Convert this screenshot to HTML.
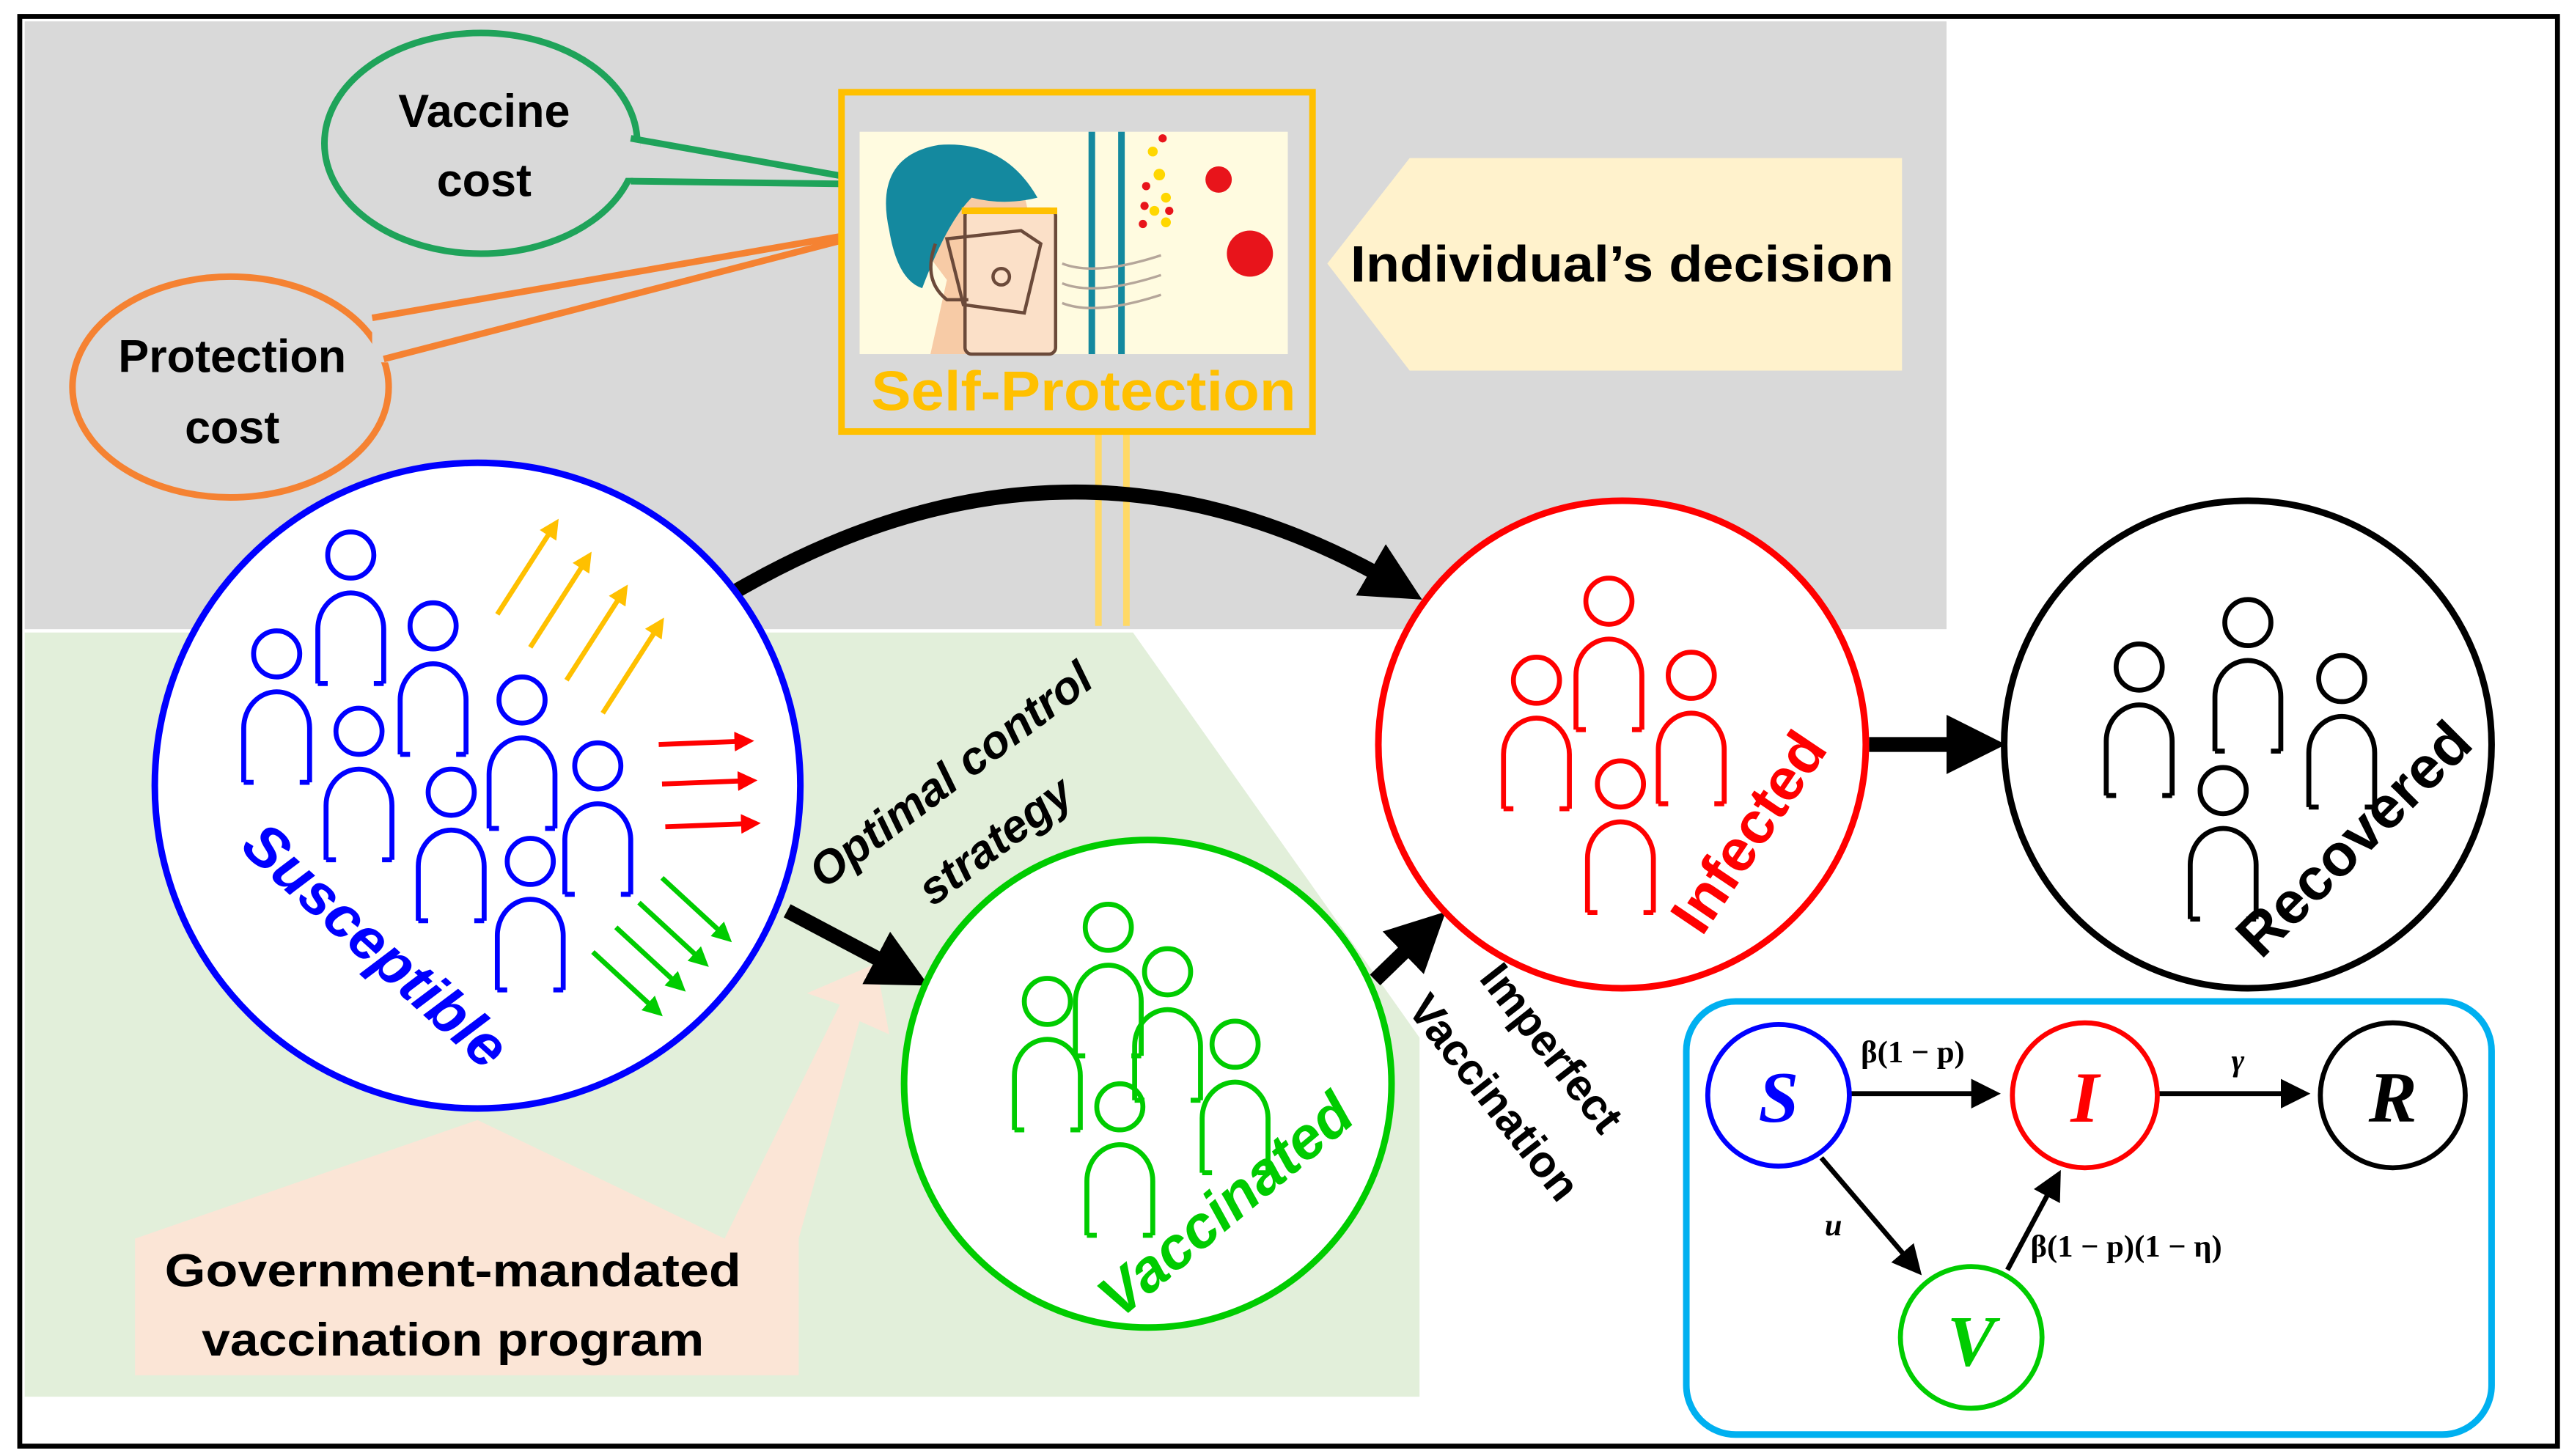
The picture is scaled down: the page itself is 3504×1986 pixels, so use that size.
<!DOCTYPE html>
<html><head><meta charset="utf-8"><style>
html,body{margin:0;padding:0;background:#fff;}
svg{display:block;}
text{font-family:"Liberation Sans",sans-serif;font-weight:bold;}
</style></head><body>
<svg width="3504" height="1986" viewBox="0 0 1560 884" preserveAspectRatio="none" xmlns="http://www.w3.org/2000/svg">
<defs>
<g id="p" fill="none" stroke-width="3">
<circle cx="0" cy="0" r="14"/>
<path d="M-20,78 L-20,45 A20,22 0 0 1 20,45 L20,78 M-20,78 h6 M20,78 h-6"/>
</g>
<marker id="ah" markerWidth="4" markerHeight="4" refX="2" refY="2" orient="auto" markerUnits="strokeWidth"><path d="M0,0 L4,2 L0,4z" fill="#000"/></marker>
<marker id="ao" markerWidth="4" markerHeight="4" refX="2" refY="2" orient="auto" markerUnits="strokeWidth"><path d="M0,0 L4,2 L0,4z" fill="#ffc000"/></marker>
<marker id="ar" markerWidth="4" markerHeight="4" refX="2" refY="2" orient="auto" markerUnits="strokeWidth"><path d="M0,0 L4,2 L0,4z" fill="#f00"/></marker>
<marker id="ag" markerWidth="4" markerHeight="4" refX="2" refY="2" orient="auto" markerUnits="strokeWidth"><path d="M0,0 L4,2 L0,4z" fill="#00cc00"/></marker>
<marker id="as" markerWidth="6" markerHeight="6" refX="5" refY="3" orient="auto" markerUnits="strokeWidth"><path d="M0,0 L6,3 L0,6z" fill="#000"/></marker>
</defs>
<rect x="0" y="0" width="1560" height="884" fill="#fff"/>
<rect x="15" y="13" width="1167" height="369" fill="#d9d9d9"/>
<polygon points="15,384 688,384 862,630 862,848 15,848" fill="#e2efda"/>
<rect x="12" y="10" width="1541" height="868" fill="none" stroke="#000" stroke-width="3"/>
<line x1="667" y1="263" x2="667" y2="380" stroke="#ffd966" stroke-width="4"/>
<line x1="684" y1="263" x2="684" y2="380" stroke="#ffd966" stroke-width="4"/>
<ellipse cx="292" cy="87" rx="95" ry="67" fill="none" stroke="#1fa35a" stroke-width="4"/>
<rect x="379" y="86" width="10" height="22" fill="#d9d9d9"/>
<polyline points="383,84 540,112 383,110" fill="none" stroke="#1fa35a" stroke-width="4"/>
<ellipse cx="140" cy="235" rx="96" ry="67" fill="none" stroke="#f58232" stroke-width="4"/>
<rect x="226" y="190" width="12" height="30" fill="#d9d9d9"/>
<polyline points="226,193 542,138 233,218" fill="none" stroke="#f58232" stroke-width="4"/>
<text x="294" y="77" font-size="28" text-anchor="middle" fill="#000">Vaccine</text>
<text x="294" y="119" font-size="28" text-anchor="middle" fill="#000">cost</text>
<text x="141" y="226" font-size="28" text-anchor="middle" fill="#000">Protection</text>
<text x="141" y="269" font-size="28" text-anchor="middle" fill="#000">cost</text>
<rect x="511" y="56" width="286" height="206" fill="#d9d9d9" stroke="#ffc000" stroke-width="4"/>
<rect x="522" y="80" width="260" height="135" fill="#fffbe0"/>
<path d="M565,215 L575,170 L560,150 Q530,120 545,105 Q560,85 590,90 Q625,100 625,140 L640,215z" fill="#f7cba6"/>
<path d="M540,140 Q530,95 570,88 Q610,85 630,120 Q610,125 590,120 Q575,135 560,175 Q545,170 540,140z" fill="#14899f"/>
<rect x="586" y="127" width="55" height="88" fill="#fbe0c8" stroke="#6b4a3a" stroke-width="2" rx="4"/>
<rect x="584" y="126" width="58" height="4" fill="#ffc000"/>
<path d="M575,145 L620,140 L632,148 L622,190 L585,185z M568,148 Q560,170 575,182 L588,182" fill="none" stroke="#6b4a3a" stroke-width="2"/>
<circle cx="608" cy="168" r="5" fill="none" stroke="#6b4a3a" stroke-width="2"/>
<rect x="661" y="80" width="4" height="135" fill="#14899f"/>
<rect x="679" y="80" width="4" height="135" fill="#14899f"/>
<path d="M645,160 q20,8 60,-5 M645,172 q20,8 60,-5 M645,184 q20,8 60,-5" stroke="#b5a69a" fill="none" stroke-width="1.5"/>
<g fill="#ffd700"><circle cx="700" cy="92" r="3"/><circle cx="704" cy="106" r="3.5"/><circle cx="708" cy="120" r="3"/><circle cx="701" cy="128" r="3"/><circle cx="708" cy="135" r="3"/></g>
<g fill="#e8141b"><circle cx="706" cy="84" r="2.5"/><circle cx="696" cy="113" r="2.5"/><circle cx="695" cy="125" r="2.5"/><circle cx="710" cy="128" r="2.5"/><circle cx="694" cy="136" r="2.5"/><circle cx="740" cy="109" r="8"/><circle cx="759" cy="154" r="14"/></g>
<text x="658" y="249" font-size="34" text-anchor="middle" fill="#ffc000" textLength="258" lengthAdjust="spacingAndGlyphs">Self-Protection</text>
<polygon points="806,160 856,96 1155,96 1155,225 856,225" fill="#fff2cc"/>
<text x="985" y="171" font-size="31" text-anchor="middle" fill="#000" textLength="330" lengthAdjust="spacingAndGlyphs">Individual’s  decision</text>
<polygon points="82,835 82,752 290,680 440,752 510,610 490,603 532,585 540,628 522,620 485,752 485,835" fill="#fbe5d6"/>
<text x="275" y="781" font-size="28" text-anchor="middle" fill="#000" textLength="350" lengthAdjust="spacingAndGlyphs">Government-mandated</text>
<text x="275" y="823" font-size="28" text-anchor="middle" fill="#000" textLength="305" lengthAdjust="spacingAndGlyphs">vaccination program</text>
<path d="M445,360 Q650,240 848,355" fill="none" stroke="#000" stroke-width="9" marker-end="url(#ah)"/>
<line x1="478" y1="553" x2="548" y2="590" stroke="#000" stroke-width="9" marker-end="url(#ah)"/>
<line x1="835" y1="595" x2="865" y2="566" stroke="#000" stroke-width="9" marker-end="url(#ah)"/>
<line x1="1135" y1="452" x2="1200" y2="452" stroke="#000" stroke-width="9" marker-end="url(#ah)"/>
<circle cx="290" cy="477" r="196" fill="#fff" stroke="#0000ff" stroke-width="4"/>
<circle cx="985" cy="452" r="148" fill="#fff" stroke="#f00" stroke-width="4"/>
<circle cx="1365" cy="452" r="148" fill="#fff" stroke="#000" stroke-width="4"/>
<circle cx="697" cy="658" r="148" fill="#fff" stroke="#00cc00" stroke-width="4"/>
<g stroke="#0000ff">
<use href="#p" x="213" y="337"/><use href="#p" x="168" y="397"/><use href="#p" x="263" y="380"/>
<use href="#p" x="218" y="444"/><use href="#p" x="317" y="425"/><use href="#p" x="274" y="481"/>
<use href="#p" x="363" y="465"/><use href="#p" x="322" y="523"/>
</g>
<g stroke="#ffc000" stroke-width="3">
<line x1="302" y1="373" x2="336" y2="320" marker-end="url(#ao)"/><line x1="322" y1="393" x2="356" y2="340" marker-end="url(#ao)"/>
<line x1="344" y1="413" x2="378" y2="360" marker-end="url(#ao)"/><line x1="366" y1="433" x2="400" y2="380" marker-end="url(#ao)"/>
</g>
<g stroke="#f00" stroke-width="3">
<line x1="400" y1="452" x2="452" y2="450" marker-end="url(#ar)"/><line x1="402" y1="476" x2="454" y2="474" marker-end="url(#ar)"/><line x1="404" y1="502" x2="456" y2="500" marker-end="url(#ar)"/>
</g>
<g stroke="#00cc00" stroke-width="3">
<line x1="402" y1="533" x2="440" y2="568" marker-end="url(#ag)"/><line x1="388" y1="548" x2="426" y2="583" marker-end="url(#ag)"/>
<line x1="374" y1="563" x2="412" y2="598" marker-end="url(#ag)"/><line x1="360" y1="578" x2="398" y2="613" marker-end="url(#ag)"/>
</g>
<text transform="translate(220,583) rotate(42)" font-size="36" font-style="italic" text-anchor="middle" fill="#0000ff">Susceptible</text>
<g stroke="#f00"><use href="#p" x="977" y="365"/><use href="#p" x="933" y="413"/><use href="#p" x="1027" y="410"/><use href="#p" x="984" y="476"/></g>
<text transform="translate(1072,512) rotate(-56)" font-size="36" text-anchor="middle" fill="#f00">Infected</text>
<g stroke="#000"><use href="#p" x="1365" y="378"/><use href="#p" x="1299" y="405"/><use href="#p" x="1422" y="412"/><use href="#p" x="1350" y="480"/></g>
<text transform="translate(1438,518) rotate(-45)" font-size="36" text-anchor="middle" fill="#000">Recovered</text>
<g stroke="#00cc00"><use href="#p" x="673" y="563"/><use href="#p" x="636" y="608"/><use href="#p" x="709" y="590"/><use href="#p" x="750" y="634"/><use href="#p" x="680" y="672"/></g>
<text transform="translate(752,741) rotate(-40)" font-size="36" font-style="italic" text-anchor="middle" fill="#00cc00">Vaccinated</text>
<text transform="translate(583,478) rotate(-37)" font-size="28" font-style="italic" text-anchor="middle" fill="#000">Optimal control</text>
<text transform="translate(610,518) rotate(-37)" font-size="28" font-style="italic" text-anchor="middle" fill="#000">strategy</text>
<text transform="translate(935,642) rotate(52)" font-size="27" text-anchor="middle" fill="#000">Imperfect</text>
<text transform="translate(900,672) rotate(52)" font-size="27" text-anchor="middle" fill="#000">Vaccination</text>
<rect x="1024" y="608" width="489" height="263" rx="30" fill="#fff" stroke="#00b0f0" stroke-width="4"/>
<line x1="1124" y1="664" x2="1212" y2="664" stroke="#000" stroke-width="3" marker-end="url(#as)"/>
<line x1="1311" y1="664" x2="1400" y2="664" stroke="#000" stroke-width="3" marker-end="url(#as)"/>
<line x1="1106" y1="703" x2="1165" y2="772" stroke="#000" stroke-width="3" marker-end="url(#as)"/>
<line x1="1219" y1="771" x2="1250" y2="713" stroke="#000" stroke-width="3" marker-end="url(#as)"/>
<circle cx="1080" cy="665" r="43" fill="#fff" stroke="#0000ff" stroke-width="3"/>
<circle cx="1266" cy="665" r="44" fill="#fff" stroke="#f00" stroke-width="3"/>
<circle cx="1453" cy="665" r="44" fill="#fff" stroke="#000" stroke-width="3"/>
<circle cx="1197" cy="812" r="43" fill="#fff" stroke="#00cc00" stroke-width="3"/>
<g font-style="italic" font-size="44" text-anchor="middle">
<text x="1080" y="681" fill="#0000ff" style="font-family:'Liberation Serif',serif">S</text>
<text x="1266" y="681" fill="#f00" style="font-family:'Liberation Serif',serif">I</text>
<text x="1453" y="681" fill="#000" style="font-family:'Liberation Serif',serif">R</text>
<text x="1197" y="829" fill="#00cc00" style="font-family:'Liberation Serif',serif">V</text>
</g>
<g font-size="19" fill="#000">
<text x="1130" y="645" style="font-family:'Liberation Serif',serif">β(1 − p)</text>
<text x="1355" y="650" style="font-family:'Liberation Serif',serif;font-style:italic">γ</text>
<text x="1108" y="750" style="font-family:'Liberation Serif',serif;font-style:italic">u</text>
<text x="1233" y="763" style="font-family:'Liberation Serif',serif">β(1 − p)(1 − η)</text>
</g>
</svg>
</body></html>
